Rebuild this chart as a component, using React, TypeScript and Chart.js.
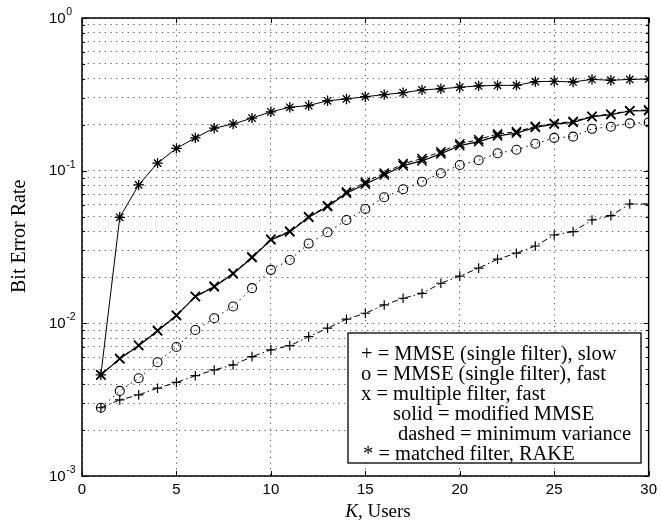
import { useEffect, useRef } from 'react';
import { Chart, registerables } from 'chart.js';

Chart.register(...registerables);

// ---------------- data ----------------
const users = [1, 2, 3, 4, 5, 6, 7, 8, 9, 10, 11, 12, 13, 14, 15, 16, 17, 18, 19, 20, 21, 22, 23, 24, 25, 26, 27, 28, 29, 30];

// + = MMSE (single filter), slow  (dash-dot)
const mmseSlow = [0.0028, 0.00315, 0.0034, 0.00376, 0.0041, 0.00454, 0.00495, 0.00534, 0.00605, 0.0067, 0.00714, 0.00818, 0.00929, 0.01064, 0.01164, 0.0132, 0.0146, 0.0157, 0.0183, 0.0204, 0.023, 0.0263, 0.0288, 0.0321, 0.0379, 0.0399, 0.0475, 0.0507, 0.0605, 0.0605];

// o = MMSE (single filter), fast  (dotted)
const mmseFast = [0.0028, 0.00361, 0.00437, 0.00556, 0.007, 0.00905, 0.0108, 0.0129, 0.017, 0.0224, 0.026, 0.0333, 0.0395, 0.0475, 0.0561, 0.067, 0.0755, 0.0847, 0.0962, 0.109, 0.117, 0.13, 0.137, 0.15, 0.164, 0.167, 0.188, 0.194, 0.204, 0.207];

// x = multiple filter, fast — solid = modified MMSE
const multiModified = [0.0046, 0.00585, 0.00714, 0.00891, 0.01124, 0.01496, 0.0173, 0.0211, 0.0269, 0.0352, 0.0397, 0.0495, 0.0581, 0.0711, 0.0815, 0.0937, 0.108, 0.116, 0.129, 0.146, 0.155, 0.169, 0.176, 0.192, 0.202, 0.207, 0.226, 0.233, 0.246, 0.247];

// x = multiple filter, fast — dashed = minimum variance
const multiMinVar = [0.0046, 0.0059, 0.0072, 0.009, 0.0113, 0.015, 0.0175, 0.0213, 0.0272, 0.0356, 0.0402, 0.05, 0.059, 0.0725, 0.084, 0.0965, 0.111, 0.12, 0.133, 0.15, 0.16, 0.174, 0.18, 0.195, 0.204, 0.21, 0.227, 0.235, 0.247, 0.25];

// * = matched filter, RAKE (solid)
const matchedRake = [0.0046, 0.0495, 0.0806, 0.112, 0.14, 0.164, 0.19, 0.202, 0.221, 0.243, 0.26, 0.267, 0.287, 0.295, 0.305, 0.315, 0.324, 0.338, 0.344, 0.352, 0.359, 0.362, 0.362, 0.383, 0.385, 0.381, 0.396, 0.391, 0.396, 0.398];

const xTickValues = [0, 5, 10, 15, 20, 25, 30];
const yDecadeValues = [0.001, 0.01, 0.1, 1];
const yDecadeBase = '10';
const yDecadeExponents = ['-3', '-2', '-1', '0'];
const yMinorMultipliers = [2, 3, 4, 5, 6, 7, 8, 9];

const xTitleItalic = 'K';
const xTitleRest = ', Users';
const yTitle = 'Bit Error Rate';

const legendLines = [
  '+ = MMSE (single filter), slow',
  'o = MMSE (single filter), fast',
  'x = multiple filter, fast',
  'solid = modified MMSE',
  'dashed = minimum variance',
  '* = matched filter, RAKE',
];
const legendIndents = [0, 0, 0, 32, 37, 2];

const SERIF = '"Liberation Serif", "Times New Roman", Times, serif';
const SANS = '"Liberation Sans", Arial, Helvetica, sans-serif';

const yGridValues: number[] = [];
for (let d = 0; d < yDecadeValues.length - 1; d++) {
  yGridValues.push(yDecadeValues[d]);
  for (const m of yMinorMultipliers) yGridValues.push(m * yDecadeValues[d]);
}
yGridValues.push(yDecadeValues[yDecadeValues.length - 1]);

const toPoints = (vals: number[]) => users.map((k, i) => ({ x: k, y: vals[i] }));

const decorPlugin = {
  id: 'decor',
  afterDraw(chart: any) {
    const { ctx, chartArea } = chart;
    const { left, right, top, bottom } = chartArea;
    const xs = chart.scales.x;
    const ys = chart.scales.y;
    ctx.save();

    // frame
    ctx.strokeStyle = '#000';
    ctx.lineWidth = 1.5;
    ctx.setLineDash([]);
    ctx.strokeRect(left, top, right - left, bottom - top);

    // inward ticks
    ctx.lineWidth = 1;
    ctx.beginPath();
    for (const v of xTickValues) {
      const px = Math.round(xs.getPixelForValue(v)) + 0.5;
      ctx.moveTo(px, bottom);
      ctx.lineTo(px, bottom - 5);
      ctx.moveTo(px, top);
      ctx.lineTo(px, top + 5);
    }
    for (const v of yGridValues) {
      const py = Math.round(ys.getPixelForValue(v)) + 0.5;
      const isMajor = yDecadeValues.includes(v);
      const len = isMajor ? 5 : 3;
      ctx.moveTo(left, py);
      ctx.lineTo(left + len, py);
      ctx.moveTo(right, py);
      ctx.lineTo(right - len, py);
    }
    ctx.stroke();

    // y tick labels 10^k
    ctx.fillStyle = '#000';
    ctx.textBaseline = 'middle';
    ctx.textAlign = 'left';
    yDecadeValues.forEach((v, i) => {
      const py = ys.getPixelForValue(v);
      const x0 = 49;
      ctx.font = `15px ${SANS}`;
      ctx.fillText(yDecadeBase, x0, py + 0.5);
      const w = ctx.measureText(yDecadeBase).width;
      ctx.font = `10.5px ${SANS}`;
      ctx.fillText(yDecadeExponents[i], x0 + w + 0.5, py - 6);
    });

    // x title
    ctx.textBaseline = 'alphabetic';
    ctx.font = `italic 19px ${SERIF}`;
    const kw = ctx.measureText(xTitleItalic).width;
    ctx.font = `19px ${SERIF}`;
    const rw = ctx.measureText(xTitleRest).width;
    const tx = 378 - (kw + rw) / 2;
    ctx.font = `italic 19px ${SERIF}`;
    ctx.fillText(xTitleItalic, tx, 517);
    ctx.font = `19px ${SERIF}`;
    ctx.fillText(xTitleRest, tx + kw, 517);

    // y title
    ctx.save();
    ctx.translate(25, 293);
    ctx.rotate(-Math.PI / 2);
    ctx.font = `20px ${SERIF}`;
    ctx.textAlign = 'left';
    ctx.fillText(yTitle, 0, 0);
    ctx.restore();

    // legend box
    const bx = 348, by = 333, bw = 293, bh = 130;
    ctx.fillStyle = '#fff';
    ctx.fillRect(bx, by, bw, bh);
    ctx.strokeStyle = '#000';
    ctx.lineWidth = 1.3;
    ctx.strokeRect(bx, by, bw, bh);
    ctx.fillStyle = '#000';
    ctx.font = `20.5px ${SERIF}`;
    ctx.textAlign = 'left';
    legendLines.forEach((line, i) => {
      ctx.fillText(line, bx + 13 + legendIndents[i], by + 27 + i * 20);
    });

    ctx.restore();
  },
};

export default function App() {
  const ref = useRef<HTMLCanvasElement | null>(null);

  useEffect(() => {
    if (!ref.current) return;
    const gridStyle = { color: '#555', lineWidth: 1, drawTicks: false };
    const chart = new Chart(ref.current, {
      type: 'line',
      data: {
        datasets: [
          {
            label: 'matched filter, RAKE',
            data: toPoints(matchedRake),
            borderColor: '#000',
            borderWidth: 1,
            pointStyle: 'star',
            pointRadius: 5.2,
            pointBorderColor: '#000',
            pointBorderWidth: 1.3,
            pointBackgroundColor: 'rgba(0,0,0,0)',
            fill: false,
            tension: 0,
          },
          {
            label: 'multiple filter, modified MMSE',
            data: toPoints(multiModified),
            borderColor: '#000',
            borderWidth: 1.2,
            pointStyle: 'crossRot',
            pointRadius: 6.5,
            pointBorderColor: '#000',
            pointBorderWidth: 1.5,
            fill: false,
            tension: 0,
          },
          {
            label: 'multiple filter, minimum variance',
            data: toPoints(multiMinVar),
            borderColor: '#000',
            borderWidth: 1,
            borderDash: [5, 3],
            pointStyle: 'crossRot',
            pointRadius: 6.5,
            pointBorderColor: '#000',
            pointBorderWidth: 1.5,
            fill: false,
            tension: 0,
          },
          {
            label: 'MMSE (single filter), fast',
            data: toPoints(mmseFast),
            borderColor: '#000',
            borderWidth: 1,
            borderDash: [1.5, 4],
            pointStyle: 'circle',
            pointRadius: 4.5,
            pointBorderColor: '#000',
            pointBorderWidth: 1.1,
            pointBackgroundColor: 'rgba(0,0,0,0)',
            fill: false,
            tension: 0,
          },
          {
            label: 'MMSE (single filter), slow',
            data: toPoints(mmseSlow),
            borderColor: '#000',
            borderWidth: 1,
            borderDash: [6, 3, 1.5, 3],
            pointStyle: 'cross',
            pointRadius: 4.8,
            pointBorderColor: '#000',
            pointBorderWidth: 1.2,
            fill: false,
            tension: 0,
          },
        ],
      },
      options: {
        animation: false,
        responsive: false,
        devicePixelRatio: 1,
        layout: { padding: { top: 18, right: 12, left: 0, bottom: 0 } },
        plugins: {
          legend: { display: false },
          tooltip: { enabled: false },
          title: { display: false },
        },
        scales: {
          x: {
            type: 'linear',
            min: 0,
            max: 30,
            afterBuildTicks: (s: any) => {
              s.ticks = xTickValues.map((v) => ({ value: v }));
            },
            afterFit: (s: any) => {
              s.height = 53;
            },
            ticks: {
              color: '#000',
              font: { family: SANS, size: 15 },
              padding: 5,
              autoSkip: false,
              maxRotation: 0,
            },
            grid: gridStyle,
            border: { display: false, dash: [1.2, 4.5] },
          },
          y: {
            type: 'logarithmic',
            min: 0.001,
            max: 1,
            afterBuildTicks: (s: any) => {
              s.ticks = yGridValues.map((v) => ({ value: v }));
            },
            afterFit: (s: any) => {
              s.width = 82;
            },
            ticks: { display: false, autoSkip: false },
            grid: gridStyle,
            border: { display: false, dash: [1.2, 4.5] },
          },
        },
      },
      plugins: [decorPlugin],
    } as any);
    return () => chart.destroy();
  }, []);

  return (
    <div style={{ position: 'fixed', left: 0, top: 0, width: 662, height: 529, background: '#fff' }}>
      <canvas ref={ref} width={662} height={529} style={{ display: 'block' }} />
    </div>
  );
}
